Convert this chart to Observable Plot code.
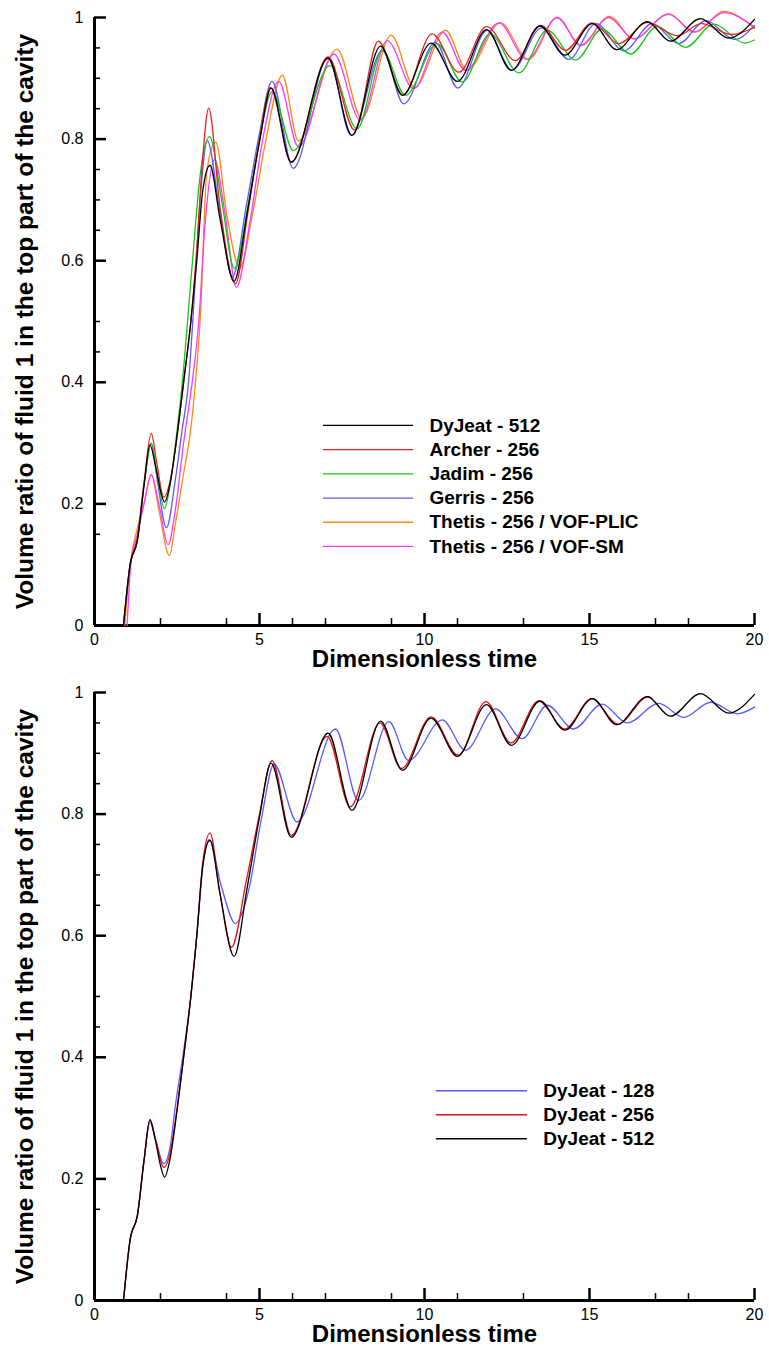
<!DOCTYPE html>
<html>
<head>
<meta charset="utf-8">
<script src="https://cdn.jsdelivr.net/npm/d3@7"></script>
<script src="https://cdn.jsdelivr.net/npm/@observablehq/plot@0.6"></script>
<style>
  body { margin: 0; background: #fff; }
  #top, #bottom { width: 769px; }
  svg { display: block; }
</style>
</head>
<body>
<div id="top"></div>
<div id="bottom"></div>
<script>
// ---------------- data ----------------
const xMajor = [0, 5, 10, 15, 20];
const xTickLabels = ["0", "5", "10", "15", "20"];
const xMinor = [2, 4, 6, 7, 9, 11, 13, 17, 18];
const yMajor = [0, 0.2, 0.4, 0.6, 0.8, 1];
const yTickLabels = ["0", "0.2", "0.4", "0.6", "0.8", "1"];
const yMinor = [0.15, 0.45, 0.5, 0.65, 0.7, 0.75, 0.85, 0.9, 0.95];

const xLabel = "Dimensionless time";
const yLabel = "Volume ratio of fluid 1 in the top part of the cavity";

// [time, volume ratio]
const dyjeat512 = [[0.88,0],[1.08,0.10],[1.3,0.14],[1.5,0.23],[1.68,0.297],[1.85,0.262],[2.0,0.222],[2.12,0.203],[2.3,0.236],[2.5,0.312],[2.7,0.40],[2.92,0.50],[3.1,0.60],[3.28,0.715],[3.5,0.757],[3.8,0.67],[4.23,0.566],[4.63,0.68],[5.0,0.795],[5.35,0.884],[5.96,0.762],[7.08,0.933],[7.8,0.806],[8.67,0.953],[9.33,0.872],[10.2,0.958],[11.0,0.895],[11.88,0.98],[12.63,0.913],[13.5,0.986],[14.25,0.938],[15.09,0.99],[15.82,0.947],[16.75,0.993],[17.45,0.961],[18.36,0.998],[19.22,0.966],[20,0.997]];
const archer256 = [[0.88,0],[1.08,0.10],[1.3,0.145],[1.5,0.235],[1.72,0.316],[1.88,0.27],[2.1,0.211],[2.3,0.24],[2.5,0.31],[2.7,0.40],[2.92,0.50],[3.1,0.62],[3.28,0.77],[3.46,0.851],[3.8,0.69],[4.27,0.562],[4.65,0.68],[5.0,0.80],[5.33,0.885],[5.96,0.762],[7.08,0.935],[7.88,0.815],[8.6,0.961],[9.35,0.872],[10.23,0.973],[11.04,0.910],[11.88,0.985],[12.76,0.929],[13.52,0.987],[14.27,0.946],[15.08,0.991],[15.89,0.957],[16.75,0.992],[17.66,0.970],[18.39,0.990],[19.3,0.972],[20,0.984]];
const jadim256 = [[0.88,0],[1.08,0.10],[1.3,0.14],[1.5,0.23],[1.72,0.30],[1.88,0.255],[2.12,0.192],[2.3,0.235],[2.5,0.32],[2.68,0.41],[2.82,0.50],[3.0,0.62],[3.2,0.74],[3.49,0.804],[3.85,0.70],[4.24,0.587],[4.65,0.69],[5.0,0.80],[5.38,0.878],[6.03,0.781],[7.13,0.921],[7.96,0.817],[8.72,0.946],[9.42,0.872],[10.38,0.957],[11.14,0.894],[11.99,0.973],[12.86,0.909],[13.72,0.979],[14.58,0.930],[15.38,0.981],[16.24,0.940],[17.05,0.985],[17.91,0.951],[18.77,0.989],[19.7,0.958],[20,0.963]];
const gerris256 = [[0.88,0],[1.08,0.10],[1.3,0.14],[1.5,0.23],[1.72,0.30],[1.9,0.24],[2.18,0.161],[2.45,0.24],[2.65,0.32],[2.85,0.40],[3.0,0.52],[3.2,0.70],[3.42,0.797],[3.8,0.68],[4.18,0.573],[4.6,0.69],[5.0,0.81],[5.38,0.895],[6.02,0.752],[7.08,0.934],[7.78,0.806],[8.72,0.946],[9.37,0.858],[10.33,0.959],[11.01,0.884],[11.9,0.979],[12.65,0.913],[13.55,0.983],[14.37,0.931],[15.2,0.99],[16.04,0.945],[16.9,0.99],[17.7,0.957],[18.52,0.995],[19.4,0.964],[20,0.987]];
const thetisPLIC = [[0.92,0],[1.08,0.10],[1.3,0.16],[1.5,0.20],[1.72,0.248],[1.95,0.19],[2.27,0.115],[2.45,0.167],[2.7,0.25],[2.91,0.32],[3.06,0.40],[3.2,0.50],[3.41,0.75],[3.67,0.795],[4.02,0.672],[4.4,0.588],[4.8,0.68],[5.2,0.80],[5.69,0.905],[6.18,0.797],[7.35,0.948],[8.1,0.834],[8.99,0.971],[9.7,0.885],[10.64,0.979],[11.29,0.913],[12.3,0.991],[13.15,0.931],[14.02,1.0],[14.75,0.954],[15.6,1.002],[16.34,0.965],[17.4,1.005],[18.2,0.976],[19.07,1.01],[20,0.982]];
const thetisSM = [[0.99,0],[1.1,0.10],[1.3,0.15],[1.5,0.20],[1.72,0.248],[1.95,0.20],[2.23,0.133],[2.45,0.19],[2.7,0.30],[2.96,0.40],[3.16,0.50],[3.35,0.66],[3.64,0.766],[3.95,0.68],[4.3,0.556],[4.7,0.66],[5.1,0.80],[5.58,0.895],[6.18,0.787],[7.25,0.940],[8.06,0.831],[8.87,0.962],[9.67,0.883],[10.54,0.976],[11.24,0.913],[12.25,0.991],[13.1,0.931],[14.02,1.0],[14.73,0.954],[15.58,1.0],[16.34,0.965],[17.4,1.006],[18.16,0.976],[19.07,1.008],[20,0.984]];

const dyjeat128 = [[0.88,0],[1.08,0.10],[1.3,0.14],[1.5,0.23],[1.68,0.293],[1.85,0.265],[2.1,0.225],[2.3,0.255],[2.45,0.32],[2.7,0.41],[2.92,0.50],[3.1,0.60],[3.28,0.712],[3.47,0.758],[3.85,0.68],[4.27,0.62],[4.67,0.674],[5.05,0.79],[5.44,0.882],[6.14,0.787],[7.3,0.94],[8.0,0.822],[8.92,0.952],[9.52,0.888],[10.54,0.955],[11.24,0.905],[12.15,0.973],[12.96,0.924],[13.72,0.979],[14.52,0.940],[15.38,0.981],[16.14,0.950],[17.1,0.982],[17.86,0.959],[18.67,0.984],[19.48,0.965],[20,0.976]];
const dyjeat256 = [[0.88,0],[1.08,0.10],[1.3,0.14],[1.5,0.23],[1.68,0.298],[1.85,0.265],[2.1,0.219],[2.3,0.245],[2.5,0.315],[2.7,0.40],[2.92,0.50],[3.1,0.60],[3.28,0.72],[3.5,0.769],[3.8,0.67],[4.15,0.581],[4.6,0.69],[5.0,0.80],[5.38,0.888],[5.96,0.765],[7.05,0.928],[7.75,0.812],[8.65,0.95],[9.3,0.875],[10.2,0.96],[11.02,0.897],[11.86,0.985],[12.62,0.917],[13.46,0.986],[14.25,0.94],[15.07,0.99],[15.86,0.948],[16.78,0.993],[16.9,0.99]];

const topNames = ["DyJeat - 512", "Archer - 256", "Jadim - 256", "Gerris - 256", "Thetis - 256 / VOF-PLIC", "Thetis - 256 / VOF-SM"];
const topSeries = [dyjeat512, archer256, jadim256, gerris256, thetisPLIC, thetisSM];
const topColors = ["#000000", "#e8231f", "#12c812", "#5b5bff", "#ff8a12", "#ff38ff"];
const topDrawOrder = [4, 5, 3, 2, 1, 0];

const bottomNames = ["DyJeat - 128", "DyJeat - 256", "DyJeat - 512"];
const bottomSeries = [dyjeat128, dyjeat256, dyjeat512];
const bottomColors = ["#5b5bff", "#e81010", "#000000"];
const bottomDrawOrder = [0, 1, 2];

// ---------------- layout ----------------
const FONT = "'Liberation Sans', Arial, Helvetica, sans-serif";
const W = 769, ML = 94, MR = 15, MT = 17;
const X_DOMAIN = [0, 20], Y_DOMAIN = [0, 1];

function toRows(name, pts) {
  return pts.map(([t, v]) => ({series: name, t, v}));
}

function panel({names, series, colors, order, height, marginBottom, leg}) {
  // data units per pixel, so tick lengths are fixed in pixels
  const xPerPx = (X_DOMAIN[1] - X_DOMAIN[0]) / (W - ML - MR);
  const yPerPx = (Y_DOMAIN[1] - Y_DOMAIN[0]) / (height - MT - marginBottom);
  const lines = order.map(i =>
    Plot.line(toRows(names[i], series[i]), {
      x: "t", y: "v", stroke: colors[i], strokeWidth: 1.3, curve: "monotone-x"
    })
  );
  const legendRows = names.map((name, i) => ({name, color: colors[i], i}));
  return Plot.plot({
    width: W,
    height,
    marginLeft: ML,
    marginRight: MR,
    marginTop: MT,
    marginBottom,
    x: {domain: X_DOMAIN},
    y: {domain: Y_DOMAIN},
    color: {type: "identity"},
    style: {fontFamily: FONT, fontSize: "16px", color: "#000", background: "#fff", overflow: "visible"},
    marks: [
      // inward ticks
      Plot.ruleX(xMinor, {x: d => d, y1: Y_DOMAIN[0], y2: Y_DOMAIN[0] + 7 * yPerPx, strokeWidth: 1.5}),
      Plot.ruleX(xMajor, {x: d => d, y1: Y_DOMAIN[0], y2: Y_DOMAIN[0] + 12 * yPerPx, strokeWidth: 2.5}),
      Plot.ruleY(yMinor, {y: d => d, x1: X_DOMAIN[0], x2: X_DOMAIN[0] + 6 * xPerPx, strokeWidth: 1.5}),
      Plot.ruleY(yMajor, {y: d => d, x1: X_DOMAIN[0], x2: X_DOMAIN[0] + 12 * xPerPx, strokeWidth: 2.5}),
      // tick labels
      Plot.axisX({ticks: xMajor, tickSize: 0, tickPadding: 8, tickFormat: d => xTickLabels[xMajor.indexOf(d)], label: null}),
      Plot.axisY({ticks: yMajor, tickSize: 0, tickPadding: 11, tickFormat: d => yTickLabels[yMajor.indexOf(d)], label: null}),
      // axis lines
      Plot.ruleY([0], {strokeWidth: 3}),
      Plot.ruleX([0], {strokeWidth: 3}),
      // data
      ...lines,
      // legend
      Plot.ruleY(legendRows, {
        y: d => leg.y0 - d.i * leg.step, x1: leg.x1, x2: leg.x2, stroke: d => d.color, strokeWidth: 1.3
      }),
      Plot.text(legendRows, {
        x: leg.tx, y: d => leg.y0 - d.i * leg.step, text: d => d.name, textAnchor: "start",
        fontWeight: "bold", fontSize: 19, fill: "#000"
      }),
      // axis titles
      Plot.text([xLabel], {text: d => d, frameAnchor: "bottom", dy: 34, lineAnchor: "middle", textAnchor: "middle", fontSize: 24, fontWeight: "bold", fill: "#000"}),
      Plot.text([yLabel], {text: d => d, frameAnchor: "left", dx: -69, rotate: -90, lineAnchor: "middle", textAnchor: "middle", fontSize: 24.5, fontWeight: "bold", fill: "#000"})
    ]
  });
}

document.getElementById("top").append(panel({
  names: topNames, series: topSeries, colors: topColors, order: topDrawOrder,
  height: 675, marginBottom: 50,
  leg: {x1: 6.94, x2: 9.67, tx: 10.15, y0: 0.329, step: 0.0398}
}));
document.getElementById("bottom").append(panel({
  names: bottomNames, series: bottomSeries, colors: bottomColors, order: bottomDrawOrder,
  height: 676, marginBottom: 51,
  leg: {x1: 10.36, x2: 13.12, tx: 13.6, y0: 0.345, step: 0.0395}
}));
</script>
</body>
</html>
